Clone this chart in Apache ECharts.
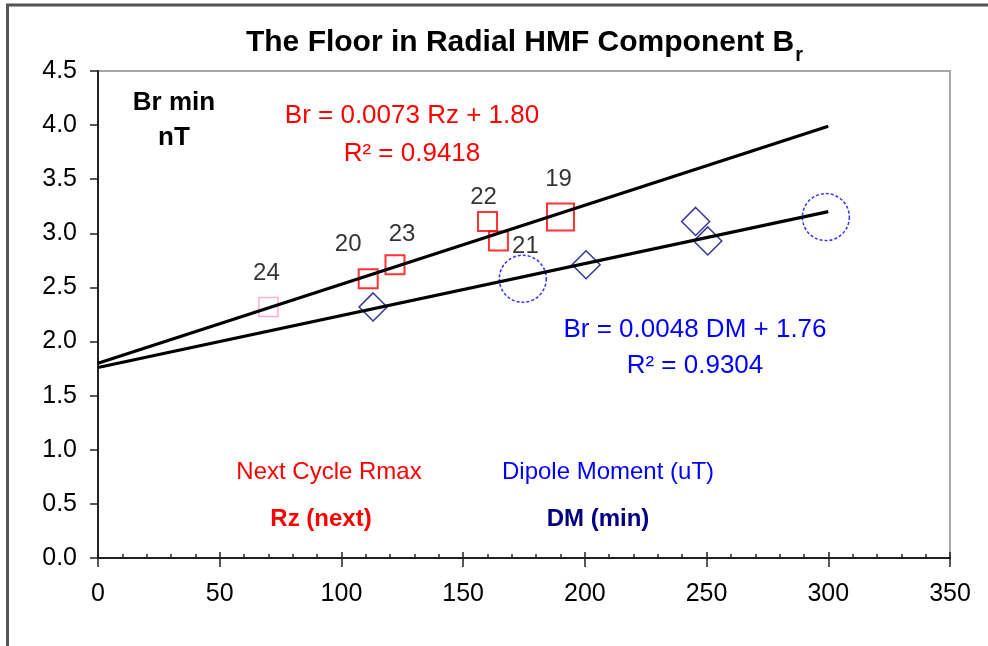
<!DOCTYPE html>
<html><head><meta charset="utf-8">
<script src="https://cdn.jsdelivr.net/npm/echarts@6/dist/echarts.min.js"></script>
<style>html,body{margin:0;padding:0;background:#fff}#c{width:988px;height:646px}</style>
</head><body><div id="c"></div>
<script>
// ---- data ----
const cycles = ['24', '20', '23', '22', '21', '19'];
const brMin  = [2.32, 2.58, 2.71, 3.11, 2.93, 3.15];
const rzNext = [70, 111, 122, 160, 164.5, 190];
const dmMin  = [113, 174.5, 200.5, 245.5, 250.5, 299];
const rzTrend = [[0, 1.80], [300, 3.99]];
const dmTrend = [[0, 1.76], [300, 3.20]];
const xTickLabels = ['0', '50', '100', '150', '200', '250', '300', '350'];
const yTickLabels = ['0.0', '0.5', '1.0', '1.5', '2.0', '2.5', '3.0', '3.5', '4.0', '4.5'];

const titleMain = 'The Floor in Radial HMF Component B';
const titleSub = 'r';
const rzEq = ['Br = 0.0073 Rz + 1.80', 'R\u00b2 = 0.9418'];
const dmEq = ['Br = 0.0048 DM + 1.76', 'R\u00b2 = 0.9304'];

// ---- styles ----
const FONT = 'Liberation Sans, Arial, sans-serif';
const rzSizes = [19, 19, 19, 19, 19, 27];
const rzColors = ['#ff99cc', '#ff0000', '#ff0000', '#ff0000', '#ff0000', '#ff0000'];
const labelOffsets = [[-2, -34], [-20, -34], [7, -30], [-4, -24], [27, 5], [-2, -38]];
const dmSymbols = ['diamond', 'circle', 'diamond', 'diamond', 'diamond', 'circle'];
const dmSizes = [28, 47, 28, 28, 28, 47];

const rzData = cycles.map((c, i) => ({
  value: [rzNext[i], brMin[i]],
  symbol: 'rect',
  symbolSize: rzSizes[i],
  itemStyle: { color: 'rgba(0,0,0,0)', borderColor: rzColors[i], borderWidth: i === 0 ? 1.5 : 2 },
  label: { show: true, formatter: c, position: 'inside', offset: labelOffsets[i],
           color: '#000', fontSize: 24, fontFamily: FONT, textBorderWidth: 0, textBorderColor: 'transparent' }
}));
const dmData = cycles.map((c, i) => ({
  value: [dmMin[i], brMin[i]],
  symbol: dmSymbols[i],
  symbolSize: dmSizes[i],
  itemStyle: dmSymbols[i] === 'circle'
    ? { color: 'rgba(0,0,0,0)', borderColor: '#0000ff', borderWidth: 1.5, borderType: [3, 2] }
    : { color: 'rgba(0,0,0,0)', borderColor: '#000080', borderWidth: 1.5 }
}));

// measure title for subscript placement
const cv = document.createElement('canvas').getContext('2d');
cv.font = 'bold 30px ' + FONT;
const wMain = cv.measureText(titleMain).width;
cv.font = 'bold 20px ' + FONT;
const wSub = cv.measureText(titleSub).width;
const tLeft = 524 - (wMain + wSub) / 2;

function txt(x, y, s, size, color, bold) {
  return { type: 'text', x: x, y: y, silent: true,
    style: { text: s, fill: color, font: (bold ? 'bold ' : '') + size + 'px ' + FONT,
             align: 'center', verticalAlign: 'middle' } };
}

const chart = echarts.init(document.getElementById('c'), null, { renderer: 'canvas' });
chart.setOption({
  animation: false,
  backgroundColor: '#fff',
  grid: { left: 98, right: 38, top: 71, bottom: 88, show: true, borderColor: '#a6a6a6', borderWidth: 2 },
  xAxis: [{
    type: 'value', min: 0, max: 350, interval: 50, position: 'bottom',
    axisLine: { show: true, lineStyle: { color: '#222', width: 2 } },
    axisTick: { show: true, inside: false, length: 9, lineStyle: { color: '#222', width: 1.5 } },
    axisLabel: { fontSize: 25, color: '#000', fontFamily: FONT, margin: 24,
                 formatter: (v) => xTickLabels[Math.round(v / 50)] },
    splitLine: { show: false }
  }, {
    type: 'value', min: 0, max: 350, interval: 50, position: 'bottom', offset: 0,
    axisLine: { show: false },
    axisTick: { show: true, inside: true, length: 6, lineStyle: { color: '#222', width: 1.5 } },
    minorTick: { show: true, splitNumber: 5, length: 4, lineStyle: { color: '#222', width: 1.5 } },
    axisLabel: { show: false },
    splitLine: { show: false }
  }],
  yAxis: {
    type: 'value', min: 0, max: 4.5, interval: 0.5,
    axisLine: { show: true, lineStyle: { color: '#222', width: 2 } },
    axisTick: { show: true, inside: false, length: 8, lineStyle: { color: '#222', width: 1.5 } },
    axisLabel: { fontSize: 25, color: '#000', fontFamily: FONT, margin: 21,
                 formatter: (v) => yTickLabels[Math.round(v / 0.5)] },
    splitLine: { show: false }
  },
  series: [
    { type: 'scatter', xAxisIndex: 0, data: rzData, z: 2, silent: true, emphasis: { disabled: true } },
    { type: 'scatter', xAxisIndex: 0, data: dmData, z: 2, silent: true, emphasis: { disabled: true } },
    { type: 'line', xAxisIndex: 0, data: rzTrend, showSymbol: false, symbol: 'none', z: 4, silent: true,
      lineStyle: { color: '#000', width: 3.2 } },
    { type: 'line', xAxisIndex: 0, data: dmTrend, showSymbol: false, symbol: 'none', z: 4, silent: true,
      lineStyle: { color: '#000', width: 3.2 } }
  ],
  graphic: [
    { type: 'rect', silent: true, z: 0, shape: { x: 7.5, y: 5, width: 1200, height: 800 },
      style: { fill: 'none', stroke: '#555', lineWidth: 3 } },
    { type: 'text', x: tLeft, y: 42.5, silent: true,
      style: { text: titleMain, fill: '#000', font: 'bold 30px ' + FONT, align: 'left', verticalAlign: 'middle' } },
    { type: 'text', x: tLeft + wMain + 1, y: 55, silent: true,
      style: { text: titleSub, fill: '#000', font: 'bold 20px ' + FONT, align: 'left', verticalAlign: 'middle' } },
    txt(174, 103, 'Br min', 26, '#000', true),
    txt(174, 138, 'nT', 26, '#000', true),
    txt(412, 116, rzEq[0], 26, '#ff0000', false),
    txt(412, 154, rzEq[1], 26, '#ff0000', false),
    txt(695, 330, dmEq[0], 26, '#0000ff', false),
    txt(695, 366, dmEq[1], 26, '#0000ff', false),
    txt(329, 472, 'Next Cycle Rmax', 24, '#ff0000', false),
    txt(608, 472, 'Dipole Moment (uT)', 24, '#0000ff', false),
    txt(321, 519, 'Rz (next)', 24, '#ff0000', true),
    txt(598, 519, 'DM (min)', 24, '#000080', true)
  ]
});
</script>
</body></html>
